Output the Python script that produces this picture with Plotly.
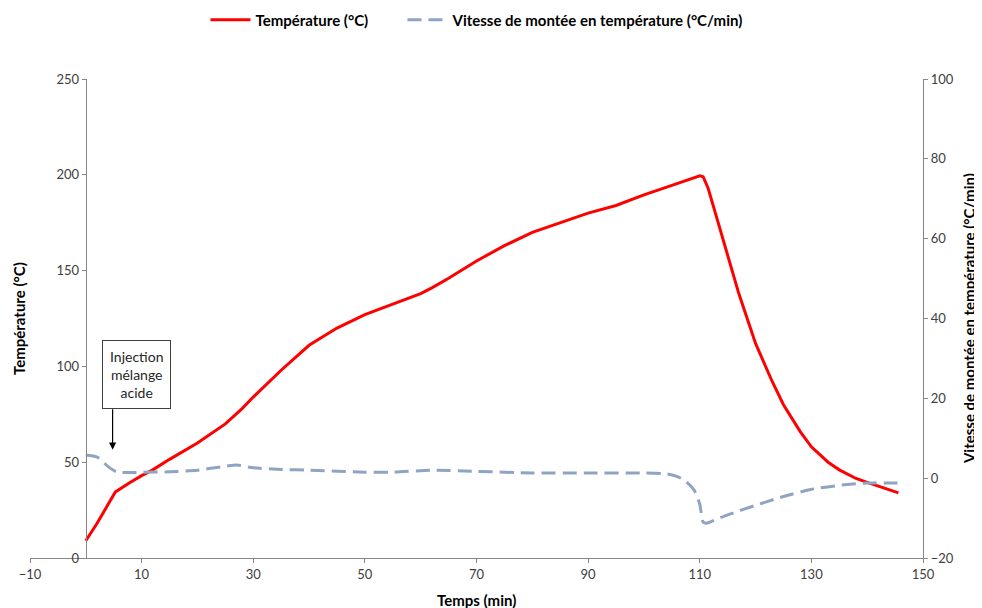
import plotly.graph_objects as go

# Temperature (°C) vs time (min)
temp_t = [0, 2, 4, 5.3, 8, 10, 12, 15, 20, 25, 28, 30, 35, 40, 45, 50, 55, 60, 62, 65, 70, 75, 80, 85, 90, 95, 100, 105, 108, 110, 110.6, 111.5, 113, 115, 117, 120, 123, 125, 128, 130, 133, 135, 138, 140, 143, 145.6]
temp_v = [9, 18, 28, 34.5, 39.5, 43, 46, 51.5, 60, 70, 78, 84, 98, 111, 120, 127, 132.5, 138, 141, 146, 155, 163, 170, 175, 180, 184, 189.5, 194.5, 197.5, 199.5, 199, 193, 178, 158, 138, 112, 92, 80, 66, 58, 50, 46, 41.5, 39.5, 36.5, 34]

# Heating rate (°C/min) vs time (min)
rate_t = [0, 2, 4, 5.5, 8, 10, 15, 20, 25, 27, 30, 35, 40, 50, 55, 62, 70, 80, 90, 100, 104, 106, 107.5, 109, 110, 110.6, 111.2, 113, 115, 120, 125, 130, 135, 140, 143, 146]
rate_v = [5.8, 5.3, 2.9, 1.6, 1.4, 1.5, 1.6, 2.0, 3.0, 3.3, 2.6, 2.2, 2.0, 1.5, 1.5, 2.0, 1.7, 1.3, 1.3, 1.3, 1.1, 0.4, -0.8, -3.0, -6.5, -11.0, -11.3, -10.3, -9.2, -6.8, -4.6, -2.8, -1.8, -1.2, -1.2, -1.2]

FONT = "Lato"
AXIS_COLOR = "#868686"
TICK_FONT = dict(size=13, color="#404040")
LEG_FONT = dict(family=FONT, size=15, color="#000000", weight="bold")

fig = go.Figure()
fig.add_trace(go.Scatter(
    x=temp_t, y=temp_v, mode="lines", name="Température (°C)",
    line=dict(color="#FF0000", width=3), yaxis="y", legend="legend"))
fig.add_trace(go.Scatter(
    x=rate_t, y=rate_v, mode="lines", name="Vitesse de montée en température (°C/min)",
    line=dict(color="#8FA3C3", width=3, dash="14px,7px", shape="spline", smoothing=0.6),
    yaxis="y2", legend="legend2"))

fig.update_layout(
    width=974, height=600,
    margin=dict(l=21.5, r=59.3, t=71, b=50, autoexpand=False),
    paper_bgcolor="white", plot_bgcolor="white",
    font=dict(family=FONT, size=13, color="#262626"),
    showlegend=True,
    legend=dict(orientation="h", x=0.1965, xanchor="left", y=1.123, yanchor="middle",
                font=LEG_FONT, itemwidth=40, bgcolor="rgba(0,0,0,0)"),
    legend2=dict(orientation="h", x=0.4171, xanchor="left", y=1.123, yanchor="middle",
                 font=LEG_FONT, itemwidth=40, bgcolor="rgba(0,0,0,0)"),
    xaxis=dict(range=[-10, 150], tick0=-10, dtick=20, showgrid=False, zeroline=False,
               showline=True, linecolor=AXIS_COLOR, linewidth=1.3,
               ticks="outside", ticklen=4, tickcolor=AXIS_COLOR, tickfont=TICK_FONT),
    yaxis=dict(range=[0, 250], dtick=50, showgrid=False, zeroline=False,
               anchor="free", position=0.0625,
               showline=True, linecolor=AXIS_COLOR, linewidth=1.3,
               ticks="outside", ticklen=4, tickcolor=AXIS_COLOR, tickfont=TICK_FONT),
    yaxis2=dict(range=[-20, 100], dtick=20, showgrid=False, zeroline=False,
                overlaying="y", side="right", anchor="x",
                showline=True, linecolor=AXIS_COLOR, linewidth=1.3,
                ticks="outside", ticklen=4, tickcolor=AXIS_COLOR, tickfont=TICK_FONT),
)

# Axis titles
fig.add_annotation(text="<b>Temps (min)</b>", xref="paper", yref="paper", x=0.5, y=-0.0877,
                   yanchor="middle", showarrow=False, font=dict(size=15, color="#000"))
fig.add_annotation(text="<b>Température (°C)</b>", xref="paper", yref="paper", x=-0.0129, y=0.5,
                   textangle=-90, xanchor="center", yanchor="middle", showarrow=False,
                   font=dict(size=15, color="#000"))
fig.add_annotation(text="<b>Vitesse de montée en température (°C/min)</b>", xref="paper", yref="paper",
                   x=1.051, y=0.5, textangle=-90, xanchor="center", yanchor="middle", showarrow=False,
                   font=dict(size=15, color="#000"))

# Injection annotation box and arrow
fig.add_annotation(text="Injection<br>mélange<br>acide", xref="x", yref="y", x=9.1, y=96,
                   showarrow=False, bordercolor="#404040", borderwidth=1, borderpad=7,
                   bgcolor="white", font=dict(size=14, color="#262626"), align="center")
fig.add_annotation(text="", xref="x", yref="y", x=4.8, y=56.5, ax=0, ay=-42,
                   showarrow=True, arrowhead=2, arrowsize=1.2, arrowwidth=1.2, arrowcolor="#000")

fig.write_html("out.html")
